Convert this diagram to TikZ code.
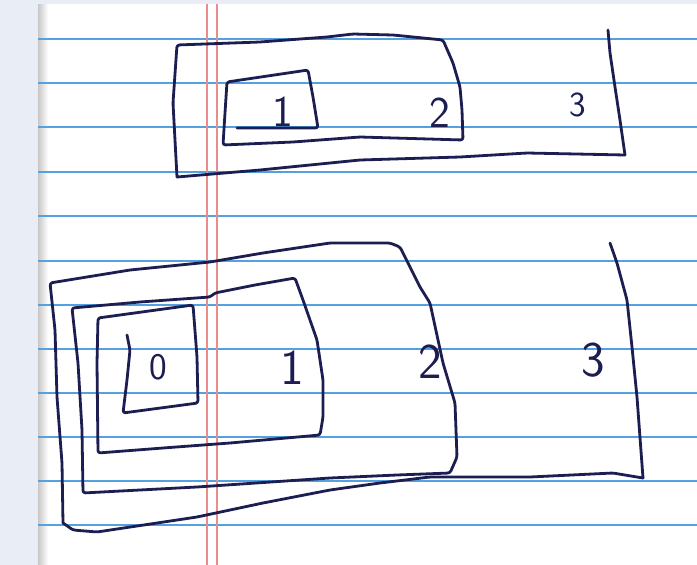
\documentclass[tikz,border=0pt]{standalone}
\usepackage{tikz}
\usetikzlibrary{positioning}
\usepackage{xcolor}
\definecolor{inkblue}{RGB}{28,30,82}
\definecolor{ruleblue}{RGB}{85,160,225}
\definecolor{marginred}{RGB}{232,140,140}
\definecolor{deskgrey}{RGB}{233,238,246}
\tikzset{
  pen/.style   ={draw=inkblue, line width=2.8pt, line join=round,
                 line cap=round, rounded corners=2.5pt},
  rule/.style  ={draw=ruleblue, line width=1.8pt},
  margin/.style={draw=marginred, line width=1.1pt},
  digit/.style ={text=inkblue, font=\sffamily\fontsize{50}{50}\selectfont,
                 inner sep=0pt},
  digitS/.style={digit, font=\sffamily\fontsize{44}{44}\selectfont},
}
\begin{document}
\begin{tikzpicture}[x=1pt, y=-1pt]
  \useasboundingbox (0,0) rectangle (697,565);
  % desk and sheet
  \fill[deskgrey] (0,0) rectangle (697,565);
  \fill[white] (38,4) rectangle (697,565);
  \shade[left color=black!22, right color=white] (38,4) rectangle (48,565);
  \foreach \y in {39,83,127,172,216,261,305,349,393,437,481,525}
    \draw[rule] (38,\y) -- (697,\y);
  \draw[margin] (207,4) -- (207,565);
  \draw[margin] (217,4) -- (217,565);

  % top sketch: nested 1 < 2 < 3
  \draw[pen] (177,177) -- (173,103) -- (177,45) -- (260,42) -- (327,37)
    -- (353,34) -- (393,35) -- (443,40) -- (453,63) -- (460,87)
    -- (462,110) -- (463,140) -- (360,137) -- (293,142) -- (223,145)
    -- (225,113) -- (227,82) -- (308,70) -- (313,97) -- (318,128)
    -- (237,128);
  \draw[pen] (177,177) -- (260,170) -- (360,160) -- (460,157)
    -- (527,153) -- (625,155);
  \draw[pen] (608,30) -- (610,53) -- (615,87) -- (620,120) -- (625,155);
  \node[digitS] (t1) at (283,112) {1};
  \node[digitS] (t2) at (440,113) {2};
  \node[digitS, scale=0.8] (t3) at (578,105) {3};

  % bottom sketch: nested 0 < 1 < 2 < 3
  \draw[pen] (63,523) -- (62,463) -- (57,397) -- (55,330) -- (50,283)
    -- (130,270) -- (210,262) -- (263,253) -- (330,243) -- (390,243)
    -- (400,247) -- (420,287) -- (430,303) -- (443,363) -- (455,403)
    -- (457,457) -- (450,473) -- (397,475) -- (330,478) -- (197,487)
    -- (83,493) -- (82,430) -- (78,363) -- (72,308) -- (140,302)
    -- (210,297) -- (215,293) -- (255,285) -- (295,278) -- (303,300)
    -- (317,340) -- (323,380) -- (323,417) -- (320,435) -- (230,443)
    -- (163,448) -- (98,453) -- (97,363) -- (98,318) -- (193,305)
    -- (197,357) -- (198,403) -- (123,413) -- (127,380) -- (130,350)
    -- (127,335);
  \draw[pen] (63,523) -- (73,530) -- (97,532) -- (197,517) -- (263,503)
    -- (330,490) -- (380,483) -- (430,477) -- (530,477) -- (613,473)
    -- (643,478);
  \draw[pen] (610,243) -- (617,263) -- (627,300) -- (632,347)
    -- (637,397) -- (643,478);
  \node[digit, scale=0.75] (b0) at (158,367) {0};
  \node[digit] (b1) at (292,368) {1};
  \node[digit] (b2) at (430,362) {2};
  \node[digit] (b3) at (593,360) {3};
\end{tikzpicture}
\end{document}
